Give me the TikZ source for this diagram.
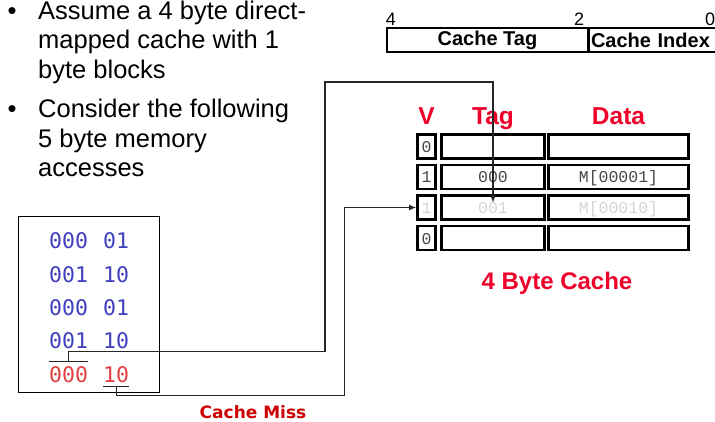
\documentclass[tikz,border=0pt]{standalone}
\usepackage{fontspec}
\setmainfont{Liberation Sans}
\newfontfamily\memfont{DejaVu Sans Mono}
\newfontfamily\cellfont{Liberation Mono}
\newfontfamily\missfont{DejaVu Sans}
\usetikzlibrary{arrows.meta}
\definecolor{hdrred}{RGB}{238,0,42}
\definecolor{missred}{RGB}{204,0,0}
\definecolor{addrblue}{RGB}{64,64,190}
\definecolor{addrred}{RGB}{226,64,64}
\definecolor{inkgray}{RGB}{70,70,70}
\definecolor{faintgray}{RGB}{212,212,212}

\begin{document}
\begin{tikzpicture}[x=1pt,y=-1pt]
	\tikzset{
		bullettext/.style={anchor=base west,inner sep=0,font=\fontsize{25.5}{29.5}\selectfont},
		bitnum/.style={anchor=base,inner sep=0,font=\fontsize{18}{20}\selectfont},
		field/.style={draw,line width=2pt,minimum height=24pt,inner sep=0,font=\fontsize{20}{22}\selectfont\bfseries},
		header/.style={anchor=base,inner sep=0,text=hdrred,font=\fontsize{24.5}{26}\selectfont\bfseries},
		cell/.style={draw,line width=2.8pt,minimum height=24pt,inner sep=0,text height=13pt,text depth=1pt,font=\cellfont\fontsize{16.5}{18}\selectfont},
		ink/.style={text=inkgray},
		faint/.style={text=faintgray},
		addr/.style={anchor=base west,inner sep=0,font=\memfont\fontsize{21.5}{24}\selectfont},
		link/.style={line width=1.1pt,color=black!85},
		tip/.style={-{Latex[length=7pt,width=6pt]}}
	}
	\useasboundingbox (0,0) rectangle (715,422);
	% bullet points
	\node[bullettext,anchor=base] (dot1) at (12,20) {\textbullet};
	\node[bullettext,anchor=base] (dot2) at (12,118) {\textbullet};
	\foreach \y/\txt [count=\i] in {
		20/Assume a 4 byte direct-,49/mapped cache with 1,79/byte blocks,
		118/Consider the following,148/5 byte memory,177/accesses}{
		\node[bullettext] (line\i) at (38,\y) {\txt};
	}
	% address fields
	\node[field,minimum width=201pt] (tagfield) at (487.5,40) {Cache Tag};
	\node[field,anchor=west,align=left,text width=125pt,inner xsep=2pt] (idxfield) at (588,40) {Cache Index};
	\node[bitnum] (bit4) at (391,26) {4};
	\node[bitnum] (bit2) at (579,26) {2};
	\node[bitnum] (bit0) at (710,26) {0};
	% cache
	\node[header] (hV) at (426.5,125) {V};
	\node[header] (hTag) at (493,125) {Tag};
	\node[header] (hData) at (618.5,125) {Data};
	\foreach \r/\y/\v/\t/\d/\c in {
		1/146.5/0///ink,2/177/1/000/M[00001]/ink,
		3/207.5/1/001/M[00010]/faint,4/238/0///ink}{
		\node[cell,\c,minimum width=18pt] (v\r) at (426.5,\y) {\v};
		\node[cell,\c,minimum width=103pt] (t\r) at (493,\y) {\t};
		\node[cell,\c,minimum width=140pt] (d\r) at (618.5,\y) {\d};
	}
	\node[header,font=\fontsize{24}{26}\selectfont\bfseries] (cachename) at (557,290) {4 Byte Cache};
	% memory accesses
	\node[draw,line width=1pt,minimum width=141pt,minimum height=175pt] (mem) at (88.5,304.5) {};
	\foreach \y/\tg/\ix/\c [count=\i] in {
		248/000/01/addrblue,282/001/10/addrblue,315/000/01/addrblue,
		348/001/10/addrblue,382/000/10/addrred}{
		\node[addr,text=\c] (mt\i) at (49,\y) {\tg};
		\node[addr,text=\c] (mi\i) at (103,\y) {\ix};
	}
	\draw[link] ([yshift=4pt]mt5.north west) -- ([yshift=4pt]mt5.north east);
	\draw[link] ([yshift=-4pt]mi5.south west) -- ([yshift=-4pt]mi5.south east);
	\coordinate (tagbar) at ([yshift=4pt]mt5.north);
	\coordinate (idxbar) at ([yshift=-4pt]mi5.south);
	\coordinate (tagtip) at ([yshift=5pt]t3.center);
	% connectors
	\draw[link,tip] (tagbar) -- ++(0,-10) -| (325,82) -| (tagtip);
	\draw[link,tip] (idxbar) -- ++(0,9) -| ([xshift=-72pt]v3.west) -- (v3.west);
	\node[inner sep=0,anchor=base,text=missred,font=\missfont\fontsize{17}{19}\selectfont\bfseries] (miss) at (253,418) {Cache Miss};
\end{tikzpicture}
\end{document}
